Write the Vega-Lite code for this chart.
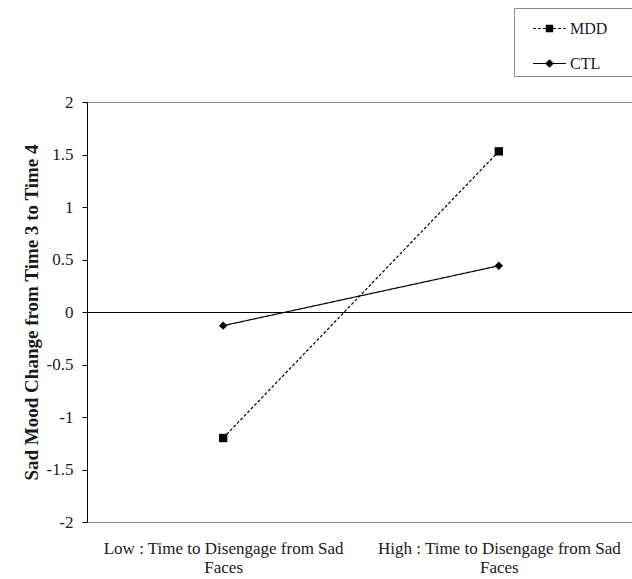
{
  "$schema": "https://vega.github.io/schema/vega-lite/v6.json",
  "autosize": {"type": "none"},
  "padding": {"left": 87, "top": 102, "right": 0, "bottom": 57},
  "width": 548,
  "height": 420,
  "background": "white",
  "config": {
    "view": {"stroke": "#8c8c8c", "strokeWidth": 1},
    "font": "Liberation Serif"
  },
  "data": {
    "values": [
      {"group": "MDD", "level": "Low : Time to Disengage from Sad Faces", "value": -1.2},
      {"group": "MDD", "level": "High : Time to Disengage from Sad Faces", "value": 1.53},
      {"group": "CTL", "level": "Low : Time to Disengage from Sad Faces", "value": -0.13},
      {"group": "CTL", "level": "High : Time to Disengage from Sad Faces", "value": 0.44}
    ]
  },
  "encoding": {
    "x": {
      "field": "level",
      "type": "nominal",
      "sort": null,
      "scale": {"type": "point", "padding": 0.494},
      "axis": {
        "title": null,
        "orient": "bottom",
        "domain": false,
        "ticks": false,
        "labelAngle": 0,
        "labelFont": "Liberation Serif",
        "labelFontSize": 17,
        "labelColor": "#1a1a1a",
        "labelPadding": 18,
        "labelLineHeight": 19,
        "labelLimit": 0,
        "labelExpr": "[replace(datum.label, ' Faces', ''), 'Faces']"
      }
    },
    "y": {
      "field": "value",
      "type": "quantitative",
      "scale": {"domain": [-2, 2], "nice": false, "zero": false},
      "axis": {
        "title": "Sad Mood Change from Time 3 to Time 4",
        "titleFont": "Liberation Serif",
        "titleFontSize": 19,
        "titleFontWeight": "bold",
        "titleColor": "#1a1a1a",
        "titlePadding": 5,
        "values": [-2, -1.5, -1, -0.5, 0, 0.5, 1, 1.5, 2],
        "labelExpr": "'' + datum.value",
        "labelFont": "Liberation Serif",
        "labelFontSize": 17,
        "labelColor": "#1a1a1a",
        "labelPadding": 9,
        "tickSize": 5,
        "tickColor": "black",
        "domainColor": "black",
        "grid": false
      }
    }
  },
  "layer": [
    {
      "mark": {"type": "rule", "color": "black", "strokeWidth": 1, "yOffset": 0.5},
      "encoding": {"y": {"datum": 0}, "x": null}
    },
    {
      "mark": {"type": "line", "color": "black", "strokeWidth": 1.2},
      "encoding": {
        "strokeDash": {
          "field": "group",
          "type": "nominal",
          "scale": {"domain": ["MDD", "CTL"], "range": [[3, 2], [1, 0]]},
          "legend": null
        }
      }
    },
    {
      "mark": {"type": "point", "filled": true, "color": "black", "size": 70, "opacity": 1},
      "encoding": {
        "shape": {
          "field": "group",
          "type": "nominal",
          "scale": {"domain": ["MDD", "CTL"], "range": ["square", "diamond"]},
          "legend": null
        }
      }
    },
    {
      "mark": {"type": "point", "filled": false, "color": "black", "size": 10, "opacity": 0, "strokeWidth": 1.2},
      "encoding": {
        "shape": {
          "field": "group",
          "type": "nominal",
          "scale": {
            "domain": ["MDD", "CTL"],
            "range": [
              "M-1.06,0L-0.87,0M-0.74,0L-0.55,0M-0.42,0L-0.24,0M0.24,0L0.42,0M0.55,0L0.74,0M0.87,0L1.06,0M-0.24,-0.21L0.24,-0.21M-0.24,-0.15L0.24,-0.15M-0.24,-0.09L0.24,-0.09M-0.24,-0.03L0.24,-0.03M-0.24,0.03L0.24,0.03M-0.24,0.09L0.24,0.09M-0.24,0.15L0.24,0.15M-0.24,0.21L0.24,0.21",
              "M-1.06,0L1.06,0M-0.06,-0.21L0.06,-0.21M-0.12,-0.15L0.12,-0.15M-0.18,-0.09L0.18,-0.09M-0.24,-0.03L0.24,-0.03M-0.24,0.03L0.24,0.03M-0.18,0.09L0.18,0.09M-0.12,0.15L0.12,0.15M-0.06,0.21L0.06,0.21"
            ]
          },
          "legend": {
            "title": null,
            "orient": "none",
            "legendX": 427,
            "legendY": -94,
            "symbolSize": 961,
            "symbolStrokeColor": "black",
            "symbolStrokeWidth": 1.2,
            "symbolOpacity": 1,
            "symbolOffset": 15,
            "labelOffset": 4,
            "rowPadding": 10,
            "padding": 4,
            "strokeColor": "#8c8c8c",
            "labelFont": "Liberation Serif",
            "labelFontSize": 16,
            "labelColor": "#1a1a1a",
            "labelExpr": "datum.label + '\u00a0\u00a0\u00a0\u00a0\u00a0\u200b'"
          }
        }
      }
    }
  ],
  "resolve": {"scale": {"shape": "independent"}}
}
